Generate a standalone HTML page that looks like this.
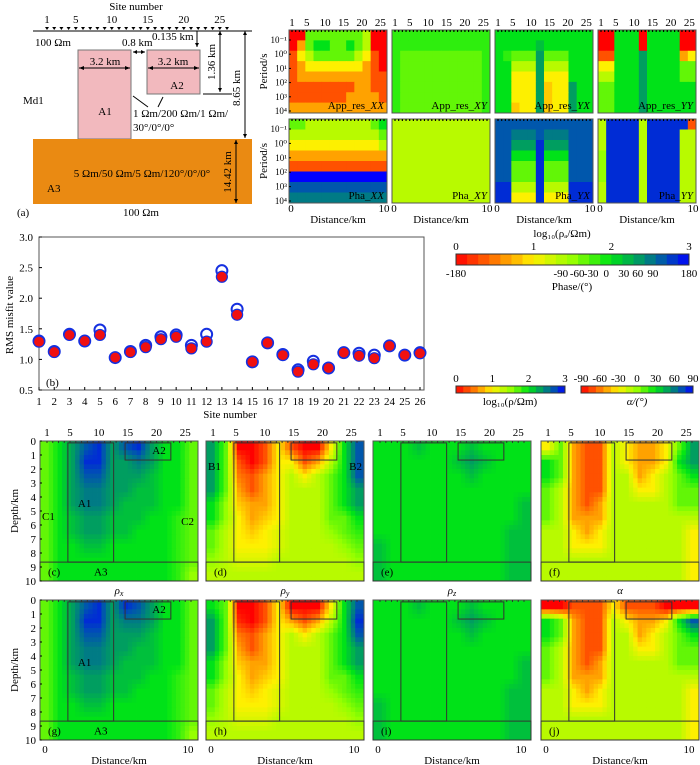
<!DOCTYPE html>
<html><head><meta charset="utf-8"><style>
html,body{margin:0;padding:0;background:#fff;}
svg{display:block;font-family:"Liberation Serif","DejaVu Serif",serif;}
</style></head><body>
<svg id="fig" width="700" height="765" viewBox="0 0 700 765" xmlns="http://www.w3.org/2000/svg">
<g id="model" font-size="11">
  <text x="136" y="10" text-anchor="middle">Site number</text>
  <g id="modelSites"></g>
  <line x1="33" y1="31" x2="252" y2="31" stroke="#000" stroke-width="1"/>
  <text x="35" y="46">100 Ωm</text>
  <rect x="78" y="50" width="53" height="89" fill="#f2b9be" stroke="#777"/>
  <rect x="147" y="50" width="53" height="44" fill="#f2b9be" stroke="#777"/>
  <rect x="33" y="139" width="219" height="65" fill="#ea8a12"/>
  <g stroke="#000" stroke-width="1" fill="none">
    <line x1="79" y1="68" x2="130" y2="68"/><line x1="148" y1="68" x2="199" y2="68"/>
    <line x1="133" y1="52" x2="145" y2="52"/>
    <line x1="197" y1="31" x2="197" y2="47"/>
    <line x1="220" y1="31" x2="220" y2="92"/><line x1="203" y1="94" x2="232" y2="94"/>
    <line x1="245" y1="31" x2="245" y2="138"/>
    <line x1="236" y1="140" x2="236" y2="203"/>
    <line x1="133" y1="96" x2="148" y2="107"/><line x1="163" y1="97" x2="158" y2="107"/>
  </g>
  <g fill="#000">
    <polygon points="79,68 84,66 84,70"/><polygon points="130,68 125,66 125,70"/>
    <polygon points="148,68 153,66 153,70"/><polygon points="199,68 194,66 194,70"/>
    <polygon points="133,52 137,50 137,54"/><polygon points="145,52 141,50 141,54"/>
    <polygon points="197,47 195,43 199,43"/>
    <polygon points="220,31 218,35 222,35"/><polygon points="220,92 218,88 222,88"/>
    <polygon points="245,31 243,35 247,35"/><polygon points="245,138 243,134 247,134"/>
    <polygon points="236,140 234,144 238,144"/><polygon points="236,203 234,199 238,199"/>
  </g>
  <text x="105" y="65" text-anchor="middle">3.2 km</text>
  <text x="173" y="65" text-anchor="middle">3.2 km</text>
  <text x="122" y="46">0.8 km</text>
  <text x="152" y="40">0.135 km</text>
  <text transform="translate(215,62) rotate(-90)" text-anchor="middle">1.36 km</text>
  <text transform="translate(240,88) rotate(-90)" text-anchor="middle">8.65 km</text>
  <text transform="translate(231,172) rotate(-90)" text-anchor="middle">14.42 km</text>
  <text x="177" y="89" text-anchor="middle">A2</text>
  <text x="105" y="115" text-anchor="middle">A1</text>
  <text x="23" y="104">Md1</text>
  <text x="133" y="117">1 Ωm/200 Ωm/1 Ωm/</text>
  <text x="133" y="131">30°/0°/0°</text>
  <text x="142" y="177" text-anchor="middle">5 Ωm/50 Ωm/5 Ωm/120°/0°/0°</text>
  <text x="47" y="192">A3</text>
  <text x="17" y="216">(a)</text>
  <text x="141" y="216" text-anchor="middle">100 Ωm</text>
</g>
<g id="topPanels" font-size="11"></g>
<g id="rms" font-size="11"></g>
<g id="bars" font-size="11"></g>
<g id="sections" font-size="11"></g>
</svg>
<script>
// ---------------- DATA ----------------
const rmsSites = [1,2,3,4,5,6,7,8,9,10,11,12,13,14,15,16,17,18,19,20,21,22,23,24,25,26];
const rmsBlue = [1.30,1.13,1.41,1.30,1.48,1.03,1.13,1.23,1.37,1.40,1.23,1.41,2.45,1.82,0.96,1.27,1.08,0.83,0.97,0.86,1.11,1.10,1.07,1.22,1.07,1.11];
const rmsRed  = [1.29,1.12,1.40,1.30,1.40,1.03,1.12,1.20,1.33,1.37,1.18,1.29,2.35,1.73,0.96,1.27,1.07,0.80,0.92,0.86,1.11,1.06,1.02,1.22,1.07,1.10];
const rmsTicks = [0.5,1.0,1.5,2.0,2.5,3.0];
const siteTickLabels = [1,5,10,15,20,25];
const periodTickLabels = ["10⁻¹","10⁰","10¹","10²","10³","10⁴"];
const depthTicks = [0,1,2,3,4,5,6,7,8,9,10];
// colour-index grids (0=red … 9=blue)
const appXX = [[0,0,5,5,5,5,5,5,5,4,0,0],[0,2,5,6,6,5,5,6,5,4,0,0],[1,3,4,5,5,5,5,5,4,3,1,0],[1,2,3,3,3,3,3,3,3,2,1,0],[1,2,2,2,2,2,2,2,2,2,1,1],[1,1,1,1,1,1,1,1,2,2,1,1],[1,1,1,1,1,1,1,2,2,2,2,1],[2,2,2,2,2,2,2,2,2,2,2,2]];
const appXY = [[5.5,5.5,5.5,5.5,5.5,5.5,5.5,5.5,5.5,5.5,5.5,5.5],[5.5,5.5,5.5,5.5,5.5,5.5,5.5,5.5,5.5,5.5,5.5,5.5],[5.5,5,5,5,5,5,5,5,5,5,5,5.5],[5.5,5,5,5,5,5,5,5,5,5,5,5.5],[5.5,5,5,5,5,5,5,5,5,5,5,5.5],[5.5,5,5,5,5,5,5,5,5,5,5,5.5],[5.5,5,5,5,5,5,5,5,5,5,5,5.5],[5.5,5,5,5,5,5,5,5,5,5,5,5.5]];
const appYX = [[6,6,6,6,6,6,6,6,6,6,6,6],[6,6,6,6,6,6.5,6,6,6,6,6,6],[6,5.5,5,5,5,7,5,5,5,6,6,6],[6,6,4,4,4,7,4,4,4,6,6,6],[6,6,3,3,3,7,3,3,3,6,6,6],[6,6,3,3,3,7,2.5,3,3,7,6,6],[6,6,3,3,3,7,2.5,3,3,7,6,6],[6,6,2.5,3,3,7,2.5,3,3,7,6,6]];
const appYY = [[0,0,6,6,6,0,6,6,6,6,0,0],[0,0,6,6,6,0,6,6,6,6,0,0],[1,1,6,6,6,7,6,6,6,6,2,3],[3,3,6,6,6,7,6,6,6,6,5,5],[4,4,6,6,6,7,6,6,6,6,5,5],[5,5,6,6,6,7,6,6,6,6,6,6],[5,5,6,6,6,7,6,6,6,6,6,6],[5,5,6,6,6,7,6,6,6,6,6,6]];
const phaXX = [[5,5,4,4,4,4,4,4,4,4,5,6],[4,4,4,4,4,4,4,4,4,4,4,5],[3,3,3,3,3,3,3,3,3,3,3,4],[2,2,2,2,2,2,2,2,2,2,2,2],[1,1,1,1,1,1,1,1,1,1,1,1],[9,9,9,9,9,9,9,9,9,9,9,9],[8,8,8,8,8,8,8,8,8,8,8,8],[7.5,7.5,7.5,7.5,7.5,7.5,7.5,7.5,7.5,7.5,7.5,7.5]];
const phaXY = [[4,4,4,4,4,4,4,4,4,4,4,4],[4,4,4,4,4,4,4,4,4,4,4,4],[4,4,4,4,4,4,4,4,4,4,4,4],[4,4,4,4,4,4,4,4,4,4,4,4],[4,4,4,4,4,4,4,4,4,4,4,4],[4,4,4,4,4,4,4,4,4,4,4,4],[4,4,4,4,4,4,4,4,4,4,4,4],[4,4,4,4,4,4,4,4,4,4,4,4]];
const phaYX = [[8,8,8,8,8,8,8,8,8,8,8,8],[8,8,7.5,7.5,7.5,8,7.5,7.5,7.5,8,8,8],[8,8,7,7,7,8.5,7,7,7,8,8,8],[8,8,6,6,6,8.5,6,6,6,8,8,8],[8,8,5,5,5,8.5,5,5,5,8,8,8],[8,8,5,5,5,8.5,5,5,5,8,8,8],[8.5,8.5,4,4,4,8.5,4,4,4,8.5,8.5,8.5],[8.5,8.5,3,3,3,8.5,3,3,3,8.5,8.5,8.5]];
const phaYY = [[4,8.5,8.5,8.5,8.5,4,8.5,8.5,8.5,8.5,8.5,1],[4,8.5,8.5,8.5,8.5,4,8.5,8.5,8.5,8.5,4,4],[4,8.5,8.5,8.5,8.5,4,8.5,8.5,8.5,8.5,4,4],[4.5,8.5,8.5,8.5,8.5,4,8.5,8.5,8.5,8.5,4,4],[4.5,8.5,8.5,8.5,8.5,4,8.5,8.5,8.5,8.5,4,4],[4.5,8.5,8.5,8.5,8.5,4,8.5,8.5,8.5,8.5,4,4],[4,8.5,8.5,8.5,8.5,4,8.5,8.5,8.5,8.5,4,4],[4,8.5,8.5,8.5,8.5,4,8.5,8.5,8.5,8.5,4,4]];
const rhoX = [[5,6,7,8,8.5,7,8,8.5,7,6,6,5],[5,6,7,8.5,8.5,7,7,7.5,7,6,6,5],[5,6,7,8,8,7,7,7,6.5,6,6,5],[5,6,7,7.5,7.5,7,7,6.5,6.5,6,6,5],[5,6,7,7.5,7.5,7,6.5,6.5,6.5,6,6,5],[5,6,6.5,7,7,6.5,6.5,6.5,6,6,5.5,5],[5,6,6.5,7,7,6.5,6.5,6,6,6,5.5,5],[5,6,6,6.5,6.5,6,6,6,6,6,5.5,5],[5,6,6,6,6,6,6,6,6,6,5.5,5],[5,6,6,6,6,6,6,6,6,6,5.5,4.5]];
const rhoY = [[7,5,0,0,1,3,1,0,0,3,6,8],[7,5,1,0,1,3,3,1,2,4,6,8],[7,5,1.5,1,2,3,4,3,4,5,6,8],[7,5,2,1,2,3,4,4,4,5,6,7],[6,4.5,2.5,2,2,3,4,4,4,5,6,7],[6,4.5,3,2,2.5,3,4,4,4,5,5,6],[5,4,3,2.5,3,3.5,4,4,4,4.5,5,5.5],[5,4,3,3,3,3.5,4,4,4,4,4.5,5],[4.5,4,3.5,3.5,3.5,4,4,4,4,4,4,4.5],[4,4,4,4,4,4,4,4,4,4,4,4]];
const rhoZ = [[6,6,6,6.5,6,6,6,6.5,6,6,6,6],[6,6,6,6,6,6,6.5,7,6.5,6,6,6],[6,6,6,6,6,6,6,6.5,6,6,6,6],[6,6,6,6,6,6,6,6,6,6,6,6],[6,6,6,6,6,6,6,6,6,6,6,6.5],[6,6,6,6,6,6,6,6,6,6,6,6.5],[6,6,6,6,6,6,6,6,6,6,6.5,6.5],[6.5,6,6,6,6,6,6,6,6,6,6.5,6.5],[6.5,6,6,6,6,6,6,6,6,6,6.5,6.5],[6.5,6,6,6,6,6,6,6,6,6,6.5,6.5]];
const alpha = [[3,5,2,1,1,4,3,2,2,3,5,7],[6,5,2,1,1,4,3,2,2,3,6,7],[6,5,2,1,1,4,4,2,3,4,5,6],[5,4,2,1,1,4,4,3,3,4,5,5],[5,4,2,1,2,4,4,4,4,4,5,5],[5,4,2,2,2,4,4,4,4,4,4,4],[4,4,3,2,3,4,4,4,4,4,4,3],[4,4,3,3,3,4,4,4,4,4,4,3],[4,4,4,4,4,4,4,4,4,4,4,3],[4,4,4,4,4,4,4,4,4,4,4,3]];
const rhoX2 = [[5,6,7,8,8.5,7,8.5,8,7,6,6,5],[5,6,7,8.5,8.5,7,7.5,7.5,7,6,6,5],[5,6,7,8,8,7,7,7,6.5,6,6,5],[5,6,7,7.5,7.5,7,7,6.5,6.5,6,6,5],[5,6,7,7.5,7.5,7,6.5,6.5,6.5,6,6,5],[5,6,6.5,7,7,6.5,6.5,6.5,6,6,5.5,5],[5,6,6.5,7,7,6.5,6.5,6,6,6,5.5,5],[5,6,6,6.5,6.5,6,6,6,6,6,5.5,5],[5,6,6,6,6,6,6,6,6,6,5.5,5],[5,6,6,6,6,6,6,6,6,6,5.5,4.5]];
const rhoY2 = [[6,5,0,0,1,3,0,0,0,3,6,8],[7,5,0.5,0,1,3,2,1,2,4,6,8.5],[7,5,1.5,1,2,3,4,3,4,5,6,8],[7,5,2,1,2,3,4,4,4,5,6,7],[6,4.5,2.5,2,2,3,4,4,4,5,6,7],[6,4.5,3,2,2.5,3,4,4,4,5,5,6],[5,4,3,2.5,3,3.5,4,4,4,4.5,5,5.5],[5,4,3,3,3,3.5,4,4,4,4,4.5,5],[4.5,4,3.5,3.5,3.5,4,4,4,4,4,4,4.5],[4,4,4,4,4,4,4,4,4,4,4,4]];
const rhoZ2 = [[6,6,6,6.5,6,6,6,6.5,6,6,6,6],[6,6,6,6,6,6,6.5,7,6.5,6,6,6],[6,6,6,6,6,6,6,6.5,6,6,6,6],[6,6,6,6,6,6,6,6,6,6,6,6],[6,6,6,6,6,6,6,6,6,6,6,6.5],[6,6,6,6,6,6,6,6,6,6,6,6.5],[6,6,6,6,6,6,6,6,6,6,6.5,6.5],[6.5,6,6,6,6,6,6,6,6,6,6.5,6.5],[6.5,6,6,6,6,6,6,6,6,6,6.5,6.5],[6.5,6,6,6,6,6,6,6,6,6,6.5,6.5]];
const alpha2 = [[0,0,1,1,1,3,1,1,1,0,0,0],[6,5,2,1,1,4,3,2,2,3,6,8],[6,5,2,1,1,4,4,2,3,4,5,6],[5,4,2,1,1,4,4,3,3,4,5,5],[5,4,2,1,2,4,4,4,4,4,5,5],[5,4,2,2,2,4,4,4,4,4,4,4],[4,4,3,2,3,4,4,4,4,4,4,3],[4,4,3,3,3,4,4,4,4,4,4,3],[4,4,4,4,4,4,4,4,4,4,4,3],[4,4,4,4,4,4,4,4,4,4,4,3]];
const cbLogLabels = [0,1,2,3];
const cbPhaseLabels = [-180,-90,-60,-30,0,30,60,90,180];
const cbAlphaLabels = [-90,-60,-30,0,30,60,90];

// ---------------- HELPERS ----------------
const NS = "http://www.w3.org/2000/svg";
function mk(tag, attrs, parent){const e=document.createElementNS(NS,tag);for(const k in attrs)e.setAttribute(k,attrs[k]);if(parent)parent.appendChild(e);return e;}
const stops=[[0,[255,0,0]],[0.33,[255,240,0]],[0.5,[150,255,0]],[0.66,[0,230,20]],[0.8,[0,145,110]],[0.9,[0,80,180]],[1,[0,0,255]]];
function cmap(v){let t=Math.max(0,Math.min(1,v/9));for(let i=1;i<stops.length;i++){if(t<=stops[i][0]){const a=stops[i-1],b=stops[i];const f=(t-a[0])/(b[0]-a[0]);const c=a[1].map((x,j)=>Math.round(x+(b[1][j]-x)*f));return `rgb(${c[0]},${c[1]},${c[2]})`;}}return "rgb(0,0,255)";}
function txt(parent,x,y,s,anchor,extra){const t=mk("text",Object.assign({x:x,y:y,"text-anchor":anchor||"start"},extra||{}),parent);t.textContent=s;return t;}
function heat(parent,grid,x0,y0,w,h){
  const rows=grid.length, cols=grid[0].length;
  const sx=c=>x0+c*w/cols, sy=r=>y0+r*h/rows;
  grid.forEach((row,r)=>row.forEach((v,c)=>{
    const cell=mk("rect",{x:sx(c),y:sy(r),width:w/cols+0.5,height:h/rows+0.5,fill:cmap(v)},parent);
    
    
  }));
}
// smoothed heatmap: bilinear sub-cells between grid values
function heatSmooth(parent,grid,x0,y0,w,h,sub){
  const rows=grid.length, cols=grid[0].length;
  const val=(r,c)=>grid[Math.max(0,Math.min(rows-1,r))][Math.max(0,Math.min(cols-1,c))];
  const cw=w/cols/sub, ch=h/rows/sub;
  for(let i=0;i<rows*sub;i++)for(let j=0;j<cols*sub;j++){
    const fr=(i+0.5)/sub-0.5, fc=(j+0.5)/sub-0.5;
    const r0=Math.floor(fr), c0=Math.floor(fc), ar=fr-r0, ac=fc-c0;
    const v=(1-ar)*((1-ac)*val(r0,c0)+ac*val(r0,c0+1))+ar*((1-ac)*val(r0+1,c0)+ac*val(r0+1,c0+1));
    const cell=mk("rect",{x:x0+j*cw,y:y0+i*ch,width:cw+0.4,height:ch+0.4,fill:cmap(v)},parent);
    
    
  }
}

// ---------------- MODEL SITES ----------------
const ms=document.getElementById("modelSites");
for(let i=1;i<=26;i++){const x=47+7.2*(i-1);mk("polygon",{points:`${x-2},27 ${x+2},27 ${x},30`,fill:"#000"},ms);}
siteTickLabels.forEach(s=>txt(ms,47+7.2*(s-1),23,String(s),"middle"));

// ---------------- TOP RESPONSE PANELS ----------------
const tp=document.getElementById("topPanels");
const colX=[289,392,495,598], colW=98;
const rowsY=[[30,113],[119,203]];
const topGrids=[[appXX,appXY,appYX,appYY],[phaXX,phaXY,phaYX,phaYY]];
const topNames=[["App_res_","XX"],["App_res_","XY"],["App_res_","YX"],["App_res_","YY"]];
const phNames=[["Pha_","XX"],["Pha_","XY"],["Pha_","YX"],["Pha_","YY"]];
for(let r=0;r<2;r++)for(let c=0;c<4;c++){
  const g=mk("g",{},tp);
  
  
  const y0=rowsY[r][0],y1=rowsY[r][1];
  heat(g,topGrids[r][c],colX[c],y0,colW,y1-y0);
  mk("rect",{x:colX[c],y:y0,width:colW,height:y1-y0,fill:"none",stroke:"#555","stroke-width":1},g);
  for(let i=0;i<26;i++){const x=colX[c]+3+i*(colW-6)/25;mk("line",{x1:x,y1:y0,x2:x,y2:y0+2,stroke:"#000","stroke-width":1.2},g);}
  const nm=(r==0?topNames:phNames)[c];
  const t=txt(g,colX[c]+colW-3,y1-4,nm[0],"end");const ts=mk("tspan",{"font-style":"italic"},t);ts.textContent=nm[1];
  if(r==0){siteTickLabels.forEach(s=>txt(g,colX[c]+3+(s-1)*(colW-6)/25,26,String(s),"middle"));}
  else{txt(g,colX[c]+2,212,"0","middle");txt(g,colX[c]+colW-3,212,"10","middle");txt(g,colX[c]+colW/2,223,"Distance/km","middle");}
  if(c==0){
    periodTickLabels.forEach((s,i)=>{const y=y0+10+i*(y1-y0-12)/5;txt(g,colX[c]-2,y+3,s,"end",{"font-size":"9"});mk("line",{x1:colX[c],y1:y,x2:colX[c]+2,y2:y,stroke:"#000"},g);});
    txt(g,0,0,"Period/s","middle",{transform:`translate(${colX[c]-22},${(y0+y1)/2}) rotate(-90)`});
  }
}
txt(tp,562,237,"log₁₀(ρₐ/Ωm)","middle");

// ---------------- COLORBARS ----------------
const cb=document.getElementById("bars");
function bar(x,y,w,h,n,name){const g=mk("g",{},cb);
  for(let i=0;i<n;i++)mk("rect",{x:x+i*w/n,y:y,width:w/n+0.4,height:h,fill:cmap(9*(i+0.5)/n)},g);
  mk("rect",{x:x,y:y,width:w,height:h,fill:"none",stroke:"#333"},g);return g;}
const b1=bar(456,254,233,11,21,"phase-resistivity-colorbar");
cbLogLabels.forEach(v=>txt(b1,456+v*233/3,250,String(v),"middle"));
const phPos={"-180":0,"-90":0.45,"-60":0.52,"-30":0.58,"0":0.645,"30":0.72,"60":0.78,"90":0.845,"180":1};
cbPhaseLabels.forEach(v=>txt(b1,456+phPos[String(v)]*233,277,String(v),"middle"));
txt(b1,572,290,"Phase/(°)","middle");
const b2=bar(456,386,109,7,15,"log-resistivity-colorbar");
cbLogLabels.forEach(v=>txt(b2,456+v*109/3,382,String(v),"middle"));
txt(b2,510,405,"log₁₀(ρ/Ωm)","middle");
const b3=bar(581,386,112,7,15,"alpha-colorbar");
cbAlphaLabels.forEach(v=>txt(b3,581+(v+90)/180*112,382,String(v),"middle"));
txt(b3,637,405,"α/(°)","middle",{"font-style":"italic"});

// ---------------- RMS CHART ----------------
const rm=document.getElementById("rms");
const X0=39,X1=420,Y0=390,Y1=237;
const sxR=s=>X0+(s-1)*(X1-X0)/25, syR=v=>Y0-(v-0.5)*(Y0-Y1)/2.5;
mk("rect",{x:X0,y:Y1,width:X1-X0+4,height:Y0-Y1,fill:"none",stroke:"#555"},rm);
rmsTicks.forEach(v=>{txt(rm,33,syR(v)+4,v.toFixed(1),"end");mk("line",{x1:X0,y1:syR(v),x2:X0+3,y2:syR(v),stroke:"#000"},rm);});
rmsSites.forEach(s=>{txt(rm,sxR(s),405,String(s),"middle");mk("line",{x1:sxR(s),y1:Y0,x2:sxR(s),y2:Y0-3,stroke:"#000"},rm);});
txt(rm,230,418,"Site number","middle");
txt(rm,0,0,"RMS misfit value","middle",{transform:"translate(13,315) rotate(-90)"});
txt(rm,46,386,"(b)","start");
rmsSites.forEach((s,i)=>{
  const b=mk("circle",{cx:sxR(s),cy:syR(rmsBlue[i]),r:5.5,fill:"#fff",stroke:"#1530e0","stroke-width":2},rm);
  
  
  const r=mk("circle",{cx:sxR(s),cy:syR(rmsRed[i]),r:5.5,fill:"#f01010",stroke:"#1530e0","stroke-width":1.2},rm);
  
  
});

// ---------------- INVERSION SECTIONS ----------------
const sec=document.getElementById("sections");
const secX=[40,206,373,541], secW=158;
const secRows=[441,600], secH=140;
const secGrids=[[rhoX,rhoY,rhoZ,alpha],[rhoX2,rhoY2,rhoZ2,alpha2]];
const secLabels=[["(c)","(d)","(e)","(f)"],["(g)","(h)","(i)","(j)"]];
const secTitles=[["ρ","x"],["ρ","y"],["ρ","z"],["α",""]];
for(let r=0;r<2;r++)for(let c=0;c<4;c++){
  const g=mk("g",{},sec);
  
  
  const x0=secX[c],y0=secRows[r];
  heatSmooth(g,secGrids[r][c],x0,y0,secW,secH,3);
  const kx=k=>x0+5+k*14.3, dy=d=>y0+d*secH/10;
  mk("rect",{x:x0,y:y0,width:secW,height:secH,fill:"none",stroke:"#555"},g);
  mk("rect",{x:kx(1.6),y:dy(0.135),width:kx(4.8)-kx(1.6),height:dy(8.65)-dy(0.135),fill:"none",stroke:"#333"},g);
  mk("rect",{x:kx(5.6),y:dy(0.135),width:kx(8.8)-kx(5.6),height:dy(1.36)-dy(0.135),fill:"none",stroke:"#333"},g);
  mk("rect",{x:x0,y:dy(8.65),width:secW,height:dy(10)-dy(8.65),fill:"none",stroke:"#333"},g);
  for(let i=0;i<26;i++){const x=x0+7+i*(secW-14)/25;mk("line",{x1:x,y1:y0,x2:x,y2:y0+2,stroke:"#333","stroke-width":1},g);}
  txt(g,x0+8,dy(9.6),secLabels[r][c],"start");
  if(r==0){siteTickLabels.forEach(s=>txt(g,x0+7+(s-1)*(secW-14)/25,436,String(s),"middle"));
    const t=txt(g,x0+secW/2,594,secTitles[c][0],"middle",{"font-style":"italic"});if(secTitles[c][1]){const ts=mk("tspan",{"font-size":"8",dy:"2"},t);ts.textContent=secTitles[c][1];}}
  else{txt(g,kx(0),753,"0","middle");txt(g,kx(10),753,"10","middle");txt(g,x0+secW/2,764,"Distance/km","middle");}
  if(c==0){depthTicks.forEach(d=>{txt(g,x0-4,dy(d)+4,String(d),"end");mk("line",{x1:x0,y1:dy(d),x2:x0+2,y2:dy(d),stroke:"#000"},g);});
    txt(g,0,0,"Depth/km","middle",{transform:`translate(${x0-22},${y0+secH/2}) rotate(-90)`});
    txt(g,kx(2.3),y0+66,"A1","start");txt(g,kx(7.5),y0+13,"A2","start");txt(g,kx(3.9),dy(9.6),"A3","middle");
    if(r==0){txt(g,x0+2,y0+79,"C1","start");txt(g,x0+secW-4,y0+84,"C2","end");}}
  if(c==1&&r==0){txt(g,x0+2,y0+29,"B1","start");txt(g,x0+secW-2,y0+29,"B2","end");}
}
</script>
</body></html>
